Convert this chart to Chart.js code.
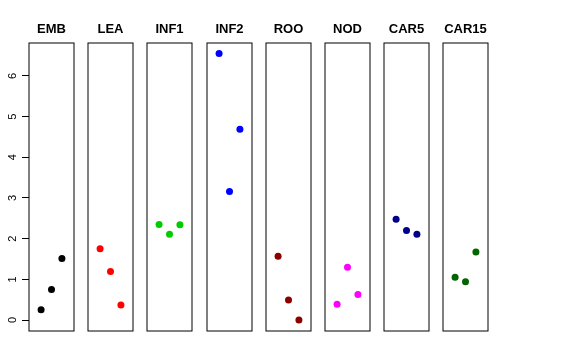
<!DOCTYPE html>
<html>
<head>
<meta charset="utf-8">
<script src="https://cdn.jsdelivr.net/npm/chart.js@4/dist/chart.umd.min.js"></script>
<style>
html, body { margin: 0; padding: 0; background: #fff; }
#wrap { position: relative; width: 576px; height: 360px; overflow: hidden; }
#wrap canvas { position: absolute; top: 0; }
</style>
</head>
<body>
<div id="wrap"></div>
<script>
// Groupes et valeurs (3 répétitions par groupe)
const groups = ['EMB', 'LEA', 'INF1', 'INF2', 'ROO', 'NOD', 'CAR5', 'CAR15'];
const reps = [1, 2, 3];
const emb = [0.25, 0.75, 1.51];
const lea = [1.75, 1.19, 0.37];
const inf1 = [2.35, 2.11, 2.34];
const inf2 = [6.55, 3.16, 4.69];
const roo = [1.57, 0.49, 0.0];
const nod = [0.39, 1.30, 0.63];
const car5 = [2.48, 2.20, 2.11];
const car15 = [1.05, 0.94, 1.67];
const groupValues = [emb, lea, inf1, inf2, roo, nod, car5, car15];
const colors = ['#000000', '#ff0000', '#00cd00', '#0000ff', '#8b0000', '#ff00ff', '#00008b', '#006400'];
const yTicks = [0, 1, 2, 3, 4, 5, 6];

const panelLefts = [29, 88, 147, 207, 266, 325, 384, 443];
const panelWidth = 45;
const axisWidth = 29;
const pad = 10;

const boxPlugin = {
    id: 'box',
    afterDraw(chart) {
        const a = chart.chartArea;
        const ctx = chart.ctx;
        ctx.save();
        ctx.strokeStyle = '#000';
        ctx.lineWidth = 1;
        ctx.strokeRect(a.left, a.top, a.right - a.left, a.bottom - a.top);
        ctx.restore();
    }
};

const wrap = document.getElementById('wrap');

groups.forEach((name, i) => {
    const first = i === 0;
    const canvas = document.createElement('canvas');
    const left = first ? 0 : panelLefts[i] - pad;
    const width = first ? axisWidth + panelWidth + pad : panelWidth + 2 * pad;
    canvas.width = width;
    canvas.height = 360;
    canvas.style.left = left + 'px';
    canvas.style.width = width + 'px';
    canvas.style.height = '360px';
    wrap.appendChild(canvas);

    new Chart(canvas, {
        type: 'scatter',
        data: {
            datasets: [{
                data: reps.map((x, j) => ({ x, y: groupValues[i][j] })),
                backgroundColor: colors[i],
                borderColor: colors[i],
                borderWidth: 0,
                pointRadius: 3.5
            }]
        },
        options: {
            responsive: false,
            animation: false,
            layout: {
                padding: { left: first ? 0 : pad, right: pad, top: 0, bottom: 29 }
            },
            plugins: {
                legend: { display: false },
                tooltip: { enabled: false },
                title: {
                    display: true,
                    fullSize: false,
                    text: name,
                    color: '#000',
                    font: { family: 'Liberation Sans', size: 13, weight: 'bold' },
                    padding: { top: 22, bottom: 5.4 }
                }
            },
            scales: {
                x: {
                    type: 'linear',
                    min: -0.16,
                    max: 4.16,
                    display: false
                },
                y: {
                    min: -0.27,
                    max: 6.81,
                    display: first,
                    afterBuildTicks: (scale) => {
                        scale.ticks = yTicks.map((v) => ({ value: v }));
                    },
                    afterFit: (scale) => {
                        if (first) scale.width = axisWidth;
                    },
                    border: { display: false },
                    grid: {
                        drawOnChartArea: false,
                        drawTicks: true,
                        tickLength: 7,
                        color: '#000'
                    },
                    ticks: {
                        color: '#000',
                        font: { family: 'Liberation Sans', size: 11 },
                        minRotation: 90,
                        maxRotation: 90,
                        crossAlign: 'center',
                        padding: 6
                    }
                }
            }
        },
        plugins: [boxPlugin]
    });
});
</script>
</body>
</html>
